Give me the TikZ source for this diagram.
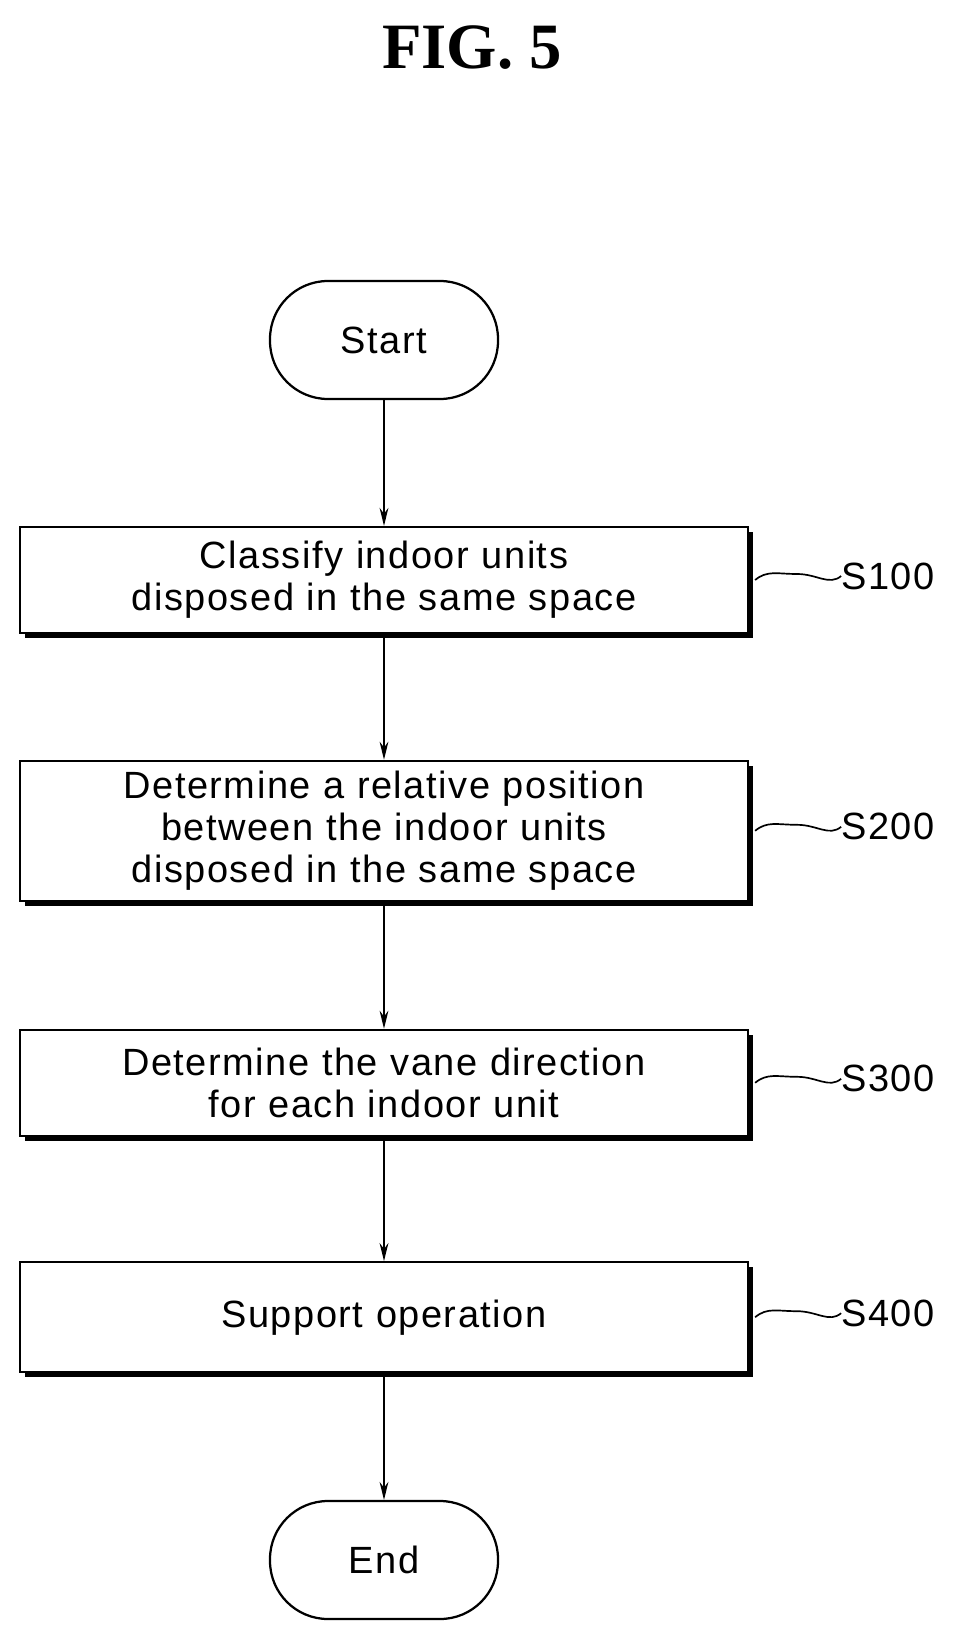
\documentclass[tikz,border=0pt]{standalone}
\usepackage{fontspec}
\setmainfont[LetterSpace=4]{Liberation Sans}
\newfontfamily\figfont{Liberation Serif}
\usetikzlibrary{arrows.meta, shadows}
\tikzstyle{fTerminal} = [rectangle, rounded corners=1.45cm, minimum width=5.7cm, minimum height=2.95cm, text centered, draw=black, line width=1.6pt, font=\fontsize{27}{30}\selectfont]
\tikzstyle{fStep} = [rectangle, minimum width=18.2cm, text centered, text width=17.8cm, draw=black, fill=white, line width=1.6pt, font=\fontsize{27}{30}\selectfont, drop shadow={shadow xshift=0.13cm, shadow yshift=-0.13cm, fill=black, opacity=1}]
\tikzstyle{fArrow} = [line width=1.4pt, -{Stealth[length=0.45cm, width=0.22cm]}]
\tikzstyle{fLabel} = [anchor=west, inner sep=0pt, font=\fontsize{27}{30}\selectfont]

\begin{document}
\begin{tikzpicture}
    \useasboundingbox (0,0) rectangle (24.175,-41.2);
    \node (title) at (11.8,-1.2) {\figfont\bfseries\fontsize{46}{50}\selectfont FIG. 5};
    \node (start) [fTerminal] at (9.6,-8.5) {Start};
    \node (classify) [fStep, minimum height=2.65cm] at (9.6,-14.5) {Classify indoor units\\disposed in the same space};
    \node (relpos) [fStep, minimum height=3.5cm] at (9.6,-20.77) {Determine a relative position\\between the indoor units\\disposed in the same space};
    \node (vane) [fStep, minimum height=2.65cm] at (9.6,-27.07) {Determine the vane direction\\for each indoor unit};
    \node (support) [fStep, minimum height=2.75cm] at (9.6,-32.93) {Support operation};
    \node (end) [fTerminal] at (9.6,-39.0) {End};

    \node (s100) [fLabel] at ([xshift=2.3cm, yshift=0.1cm]classify.east) {S100};
    \node (s200) [fLabel] at ([xshift=2.3cm, yshift=0.1cm]relpos.east) {S200};
    \node (s300) [fLabel] at ([xshift=2.3cm, yshift=0.1cm]vane.east) {S300};
    \node (s400) [fLabel] at ([xshift=2.3cm, yshift=0.1cm]support.east) {S400};

    \draw [fArrow] (start) -- (classify);
    \draw [fArrow] (classify) -- (relpos);
    \draw [fArrow] (relpos) -- (vane);
    \draw [fArrow] (vane) -- (support);
    \draw [fArrow] (support) -- (end);

    \foreach \step/\lab in {classify/s100, relpos/s200, vane/s300, support/s400}
        \draw [line width=1.2pt] ([xshift=0.15cm]\step.east) .. controls +(0.3,0.25) and +(-0.5,0) .. ([xshift=-1.1cm, yshift=0.05cm]\lab.west) .. controls +(0.5,0) and +(-0.3,-0.25) .. (\lab.west);
\end{tikzpicture}
\end{document}
